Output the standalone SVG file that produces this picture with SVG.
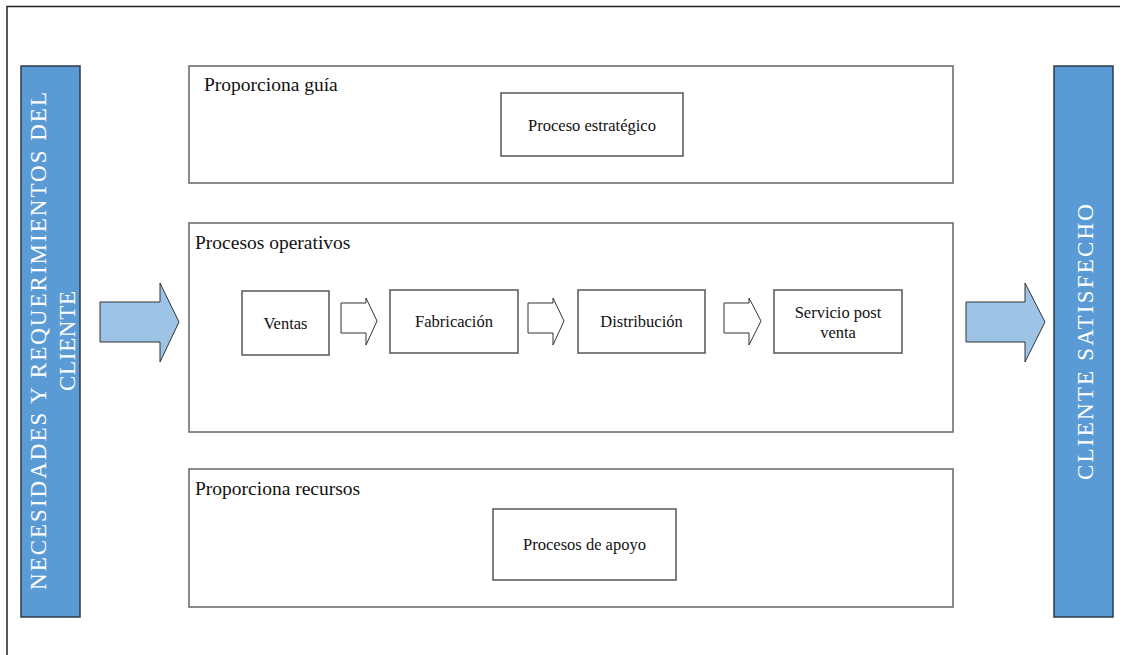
<svg xmlns="http://www.w3.org/2000/svg" width="1122" height="655" viewBox="0 0 1122 655">
  <defs>
    <style>
      .frame { fill: none; stroke: #222; stroke-width: 1.5; }
      .panel { fill: #fff; stroke: #666; stroke-width: 1.5; }
      .box { fill: #fff; stroke: #555; stroke-width: 1.5; }
      .bar { fill: #5B9BD5; stroke: #2E3A48; stroke-width: 1.5; }
      .big-arrow { fill: #9DC3E6; stroke: #333; stroke-width: 1; }
      .small-arrow { fill: #fff; stroke: #333; stroke-width: 1; }
      text { font-family: 'Liberation Serif', 'DejaVu Serif', serif; }
      .title { font-size: 19.5px; fill: #111; }
      .label { font-size: 16.5px; fill: #111; text-anchor: middle; }
      .vert { font-size: 23px; fill: #fff; text-anchor: middle; }
    </style>
  </defs>

  <rect width="1122" height="655" fill="#fff"/>
  <!-- outer frame: top and left edges -->
  <path class="frame" d="M7 655 V6.5 H1120"/>

  <!-- left side: customer requirements -->
  <g id="requirements">
    <rect class="bar" x="21" y="66" width="59" height="551"/>
    <text class="vert" transform="translate(46 341) rotate(-90)" textLength="498" lengthAdjust="spacing">NECESIDADES Y REQUERIMIENTOS DEL</text>
    <text class="vert" transform="translate(75 341) rotate(-90)" textLength="100" lengthAdjust="spacing">CLIENTE</text>
  </g>

  <!-- right side: satisfied customer -->
  <g id="satisfied">
    <rect class="bar" x="1054" y="66" width="59" height="551"/>
    <text class="vert" transform="translate(1093 342) rotate(-90)" textLength="276" lengthAdjust="spacing">CLIENTE SATISFECHO</text>
  </g>

  <!-- strategic layer -->
  <g id="strategic">
    <rect class="panel" x="189" y="66" width="764" height="117"/>
    <text class="title" x="204" y="91">Proporciona guía</text>
    <rect class="box" x="501" y="93" width="182" height="63"/>
    <text class="label" x="592" y="131">Proceso estratégico</text>
  </g>

  <!-- operational layer -->
  <g id="operational">
    <rect class="panel" x="189" y="223" width="764" height="209"/>
    <text class="title" x="195" y="249">Procesos operativos</text>
  </g>
  <g id="ventas">
    <rect class="box" x="242" y="291" width="87" height="64"/>
    <text class="label" x="285.5" y="329">Ventas</text>
  </g>
  <g id="fabricacion">
    <rect class="box" x="390" y="290" width="128" height="63"/>
    <text class="label" x="454" y="327">Fabricación</text>
  </g>
  <g id="distribucion">
    <rect class="box" x="578" y="290" width="127" height="63"/>
    <text class="label" x="641.5" y="327">Distribución</text>
  </g>
  <g id="servicio">
    <rect class="box" x="774" y="290" width="128" height="63"/>
    <text class="label" x="838" y="318">Servicio post</text>
    <text class="label" x="838" y="338">venta</text>
  </g>

  <!-- support layer -->
  <g id="support">
    <rect class="panel" x="189" y="469" width="764" height="138"/>
    <text class="title" x="195" y="495">Proporciona recursos</text>
    <rect class="box" x="493" y="509" width="183" height="71"/>
    <text class="label" x="584.5" y="550">Procesos de apoyo</text>
  </g>

  <!-- connectors -->
  <g id="connectors">
    <path class="big-arrow" d="M100 302 H160 V283 L179 322 L160 362 V342 H100 Z"/>
    <path class="big-arrow" d="M966 302 H1025 V283 L1045 322 L1025 362 V342 H966 Z"/>
    <path class="small-arrow" d="M341 303 H366 V298 L377 321 L366 345 V333 H341 Z"/>
    <path class="small-arrow" d="M528 303 H553 V298 L564 321 L553 345 V333 H528 Z"/>
    <path class="small-arrow" d="M724 303 H749 V298 L761 321 L749 345 V333 H724 Z"/>
  </g>
</svg>
